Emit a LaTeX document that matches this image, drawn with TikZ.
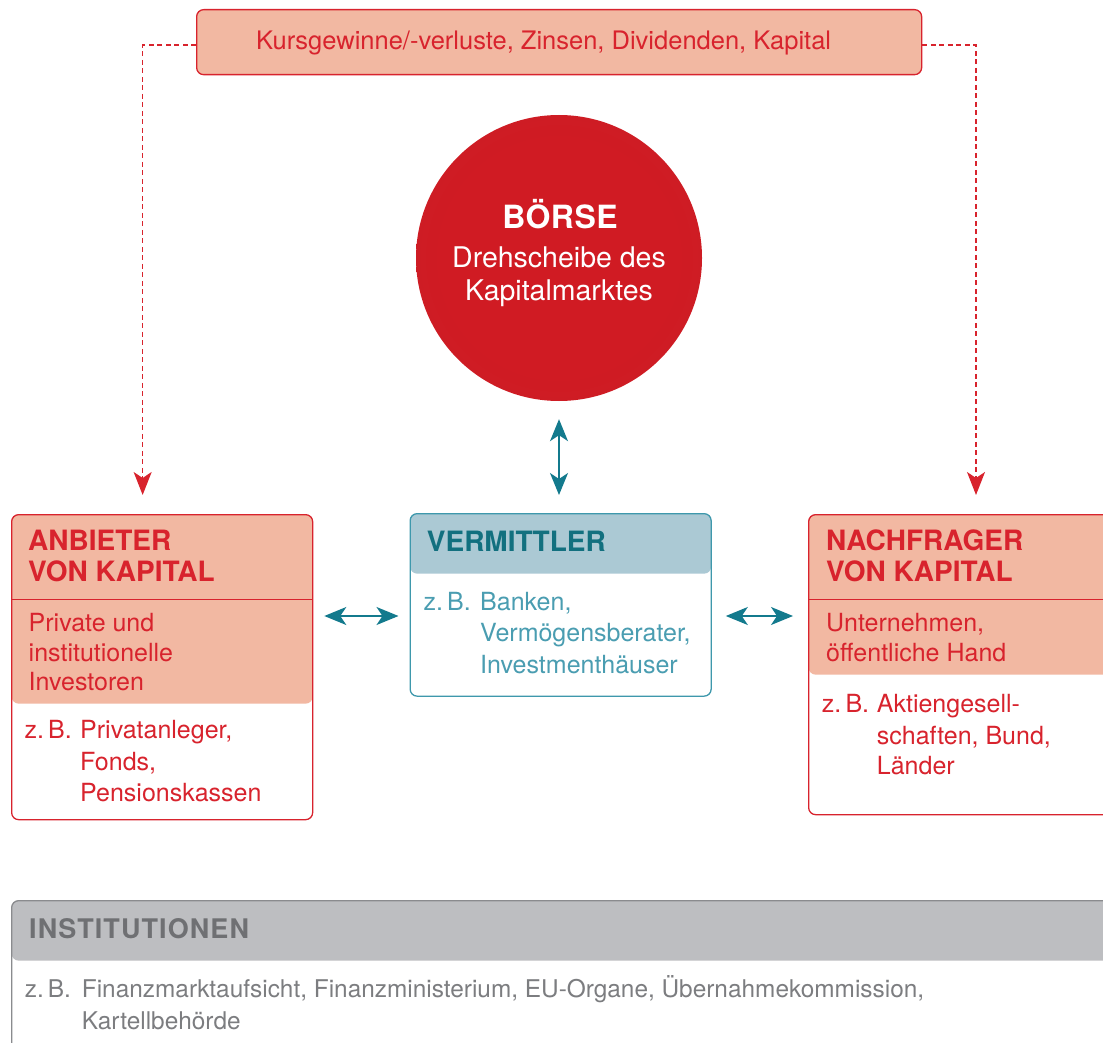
\documentclass[tikz,border=0pt]{standalone}
\usepackage{fontspec}
\setmainfont{TeX Gyre Heros}
\usetikzlibrary{arrows.meta}
\definecolor{kred}{HTML}{D8232D}
\definecolor{salmon}{HTML}{F2B8A2}
\definecolor{tealc}{HTML}{137A8D}
\definecolor{tealt}{HTML}{12707F}
\definecolor{tealb}{HTML}{4A9DB1}
\definecolor{tealborder}{HTML}{3E98AC}
\definecolor{bluehead}{HTML}{ABC9D4}
\definecolor{grayhead}{HTML}{BDBEC1}
\definecolor{grayt}{HTML}{6F7073}
\definecolor{grayb}{HTML}{7C7D80}
\definecolor{grayborder}{HTML}{8A8B8E}
\definecolor{circin}{HTML}{D01B23}
\definecolor{circmid}{HTML}{C91E26}
\definecolor{circout}{HTML}{C01F27}
\pgfdeclareradialshading{circshade}{\pgfpoint{0bp}{0bp}}{color(0bp)=(circin); color(20bp)=(circin); color(40bp)=(circmid); color(50bp)=(circout)}
\tikzset{
  txt/.style={anchor=base west, inner sep=0pt, font=\fontsize{25}{30}\selectfont},
  gtxt/.style={anchor=base west, inner sep=0pt, font=\fontsize{24.4}{30}\selectfont},
  ttl/.style={anchor=base west, inner sep=0pt, font=\fontsize{28}{32}\selectfont\bfseries},
  boxnode/.style={anchor=north west, inner sep=0pt, rounded corners=7pt, line width=1.3pt, fill=white},
  tarr/.style={draw=tealc, line width=1.5pt, {Stealth[length=22pt,width=18pt,inset=6pt]}-{Stealth[length=22pt,width=18pt,inset=6pt]}},
  rdash/.style={draw=kred, line width=1.3pt, dash pattern=on 5pt off 3.5pt, -{Stealth[length=23pt,width=18pt,inset=6pt]}},
}
\begin{document}
\begin{tikzpicture}[x=1pt,y=-1pt]
\useasboundingbox (0,0) rectangle (1103,1043);
\clip (0,0) rectangle (1103,1043);

% top box
\node[boxnode, draw=kred, fill=salmon, minimum width=725pt, minimum height=65pt] (top) at (196,9) {};
\node[txt, text=kred, font=\fontsize{25.5}{30}\selectfont] (toptxt) at (256,49.3) {Kursgewinne/-verluste, Zinsen, Dividenden, Kapital};

% circle
\node[circle, minimum size=286pt, inner sep=0pt, shading=circshade] (boerse) at (559,258) {};
\node[anchor=base, inner sep=0pt, text=white, font=\fontsize{32}{34}\selectfont\bfseries\addfontfeature{LetterSpace=1.5}] (b1) at (560,228.8) {BÖRSE};
\node[anchor=base, inner sep=0pt, text=white, font=\fontsize{28.5}{32}\selectfont] (b2) at (559,267.3) {Drehscheibe des};
\node[anchor=base, inner sep=0pt, text=white, font=\fontsize{28.5}{32}\selectfont] (b3) at (559,300.7) {Kapitalmarktes};

% Anbieter box
\node[boxnode, draw=kred, minimum width=301pt, minimum height=305pt,
  path picture={\fill[salmon] (path picture bounding box.north west) rectangle ([yshift=-189pt]path picture bounding box.north east);
  \draw[kred, line width=1.3pt] ([yshift=-85pt]path picture bounding box.north west) -- ([yshift=-85pt]path picture bounding box.north east);}] (anb) at (11,514) {};
\node[ttl, text=kred] (a1) at (28,550.7) {ANBIETER};
\node[ttl, text=kred] (a2) at (28,581) {VON KAPITAL};
\node[txt, text=kred] (a3) at (28.5,631.7) {Private und};
\node[txt, text=kred] (a4) at (28.5,661.7) {institutionelle};
\node[txt, text=kred] (a5) at (28.5,690.7) {Investoren};
\node[txt, text=kred] (a6) at (24.3,738) {z.\,B.};
\node[txt, text=kred] (a7) at (80,738) {Privatanleger,};
\node[txt, text=kred] (a8) at (80,770) {Fonds,};
\node[txt, text=kred] (a9) at (80,801.7) {Pensionskassen};

% Vermittler box
\node[boxnode, draw=tealborder, minimum width=301pt, minimum height=182.5pt,
  path picture={\fill[bluehead] (path picture bounding box.north west) rectangle ([yshift=-60pt]path picture bounding box.north east);}] (verm) at (409.5,513) {};
\node[ttl, text=tealt] (v1) at (426.7,551) {VERMITTLER};
\node[txt, text=tealb] (v2) at (423.3,610) {z.\,B.};
\node[txt, text=tealb] (v3) at (480,610) {Banken,};
\node[txt, text=tealb] (v4) at (480,641.7) {Vermögensberater,};
\node[txt, text=tealb] (v5) at (480,673.3) {Investmenthäuser};

% Nachfrager box
\node[boxnode, draw=kred, minimum width=302pt, minimum height=300pt,
  path picture={\fill[salmon] (path picture bounding box.north west) rectangle ([yshift=-160pt]path picture bounding box.north east);
  \draw[kred, line width=1.3pt] ([yshift=-85pt]path picture bounding box.north west) -- ([yshift=-85pt]path picture bounding box.north east);}] (nach) at (808,514) {};
\node[ttl, text=kred] (n1) at (826,550.7) {NACHFRAGER};
\node[ttl, text=kred] (n2) at (826,581) {VON KAPITAL};
\node[txt, text=kred] (n3) at (826,631) {Unternehmen,};
\node[txt, text=kred] (n4) at (826,661) {öffentliche Hand};
\node[txt, text=kred] (n5) at (821.7,712.3) {z.\,B.};
\node[txt, text=kred] (n6) at (876.7,712.3) {Aktiengesell-};
\node[txt, text=kred] (n7) at (876.7,744.3) {schaften, Bund,};
\node[txt, text=kred] (n8) at (876.7,774) {Länder};

% Institutionen box
\node[boxnode, draw=grayborder, minimum width=1120pt, minimum height=170pt,
  path picture={\fill[grayhead] (path picture bounding box.north west) rectangle ([yshift=-60pt]path picture bounding box.north east);}] (inst) at (11,900) {};
\node[ttl, text=grayt, font=\fontsize{27}{30}\selectfont\bfseries\addfontfeature{LetterSpace=4}] (i1) at (29,938.3) {INSTITUTIONEN};
\node[gtxt, text=grayb] (i2) at (24.7,997.5) {z.\,B.};
\node[gtxt, text=grayb] (i3) at (81.7,997.5) {Finanzmarktaufsicht, Finanzministerium, EU-Organe, Übernahmekommission,};
\node[gtxt, text=grayb] (i4) at (81.7,1029.5) {Kartellbehörde};

% connectors
\draw[rdash] ([yshift=-3pt]top.west) -| ([xshift=-19.5pt,yshift=19pt]anb.north);
\draw[rdash] ([yshift=-3pt]top.east) -| ([xshift=168pt,yshift=19pt]nach.north west);
\draw[tarr, shorten <=18pt, shorten >=18pt] (boerse.south) -- (boerse.south |- verm.north);
\draw[tarr, shorten <=11pt, shorten >=11pt] (anb.east |- 0,616) -- (verm.west |- 0,616);
\draw[tarr, shorten <=14pt, shorten >=15pt] (verm.east |- 0,616) -- (nach.west |- 0,616);
\end{tikzpicture}
\end{document}
